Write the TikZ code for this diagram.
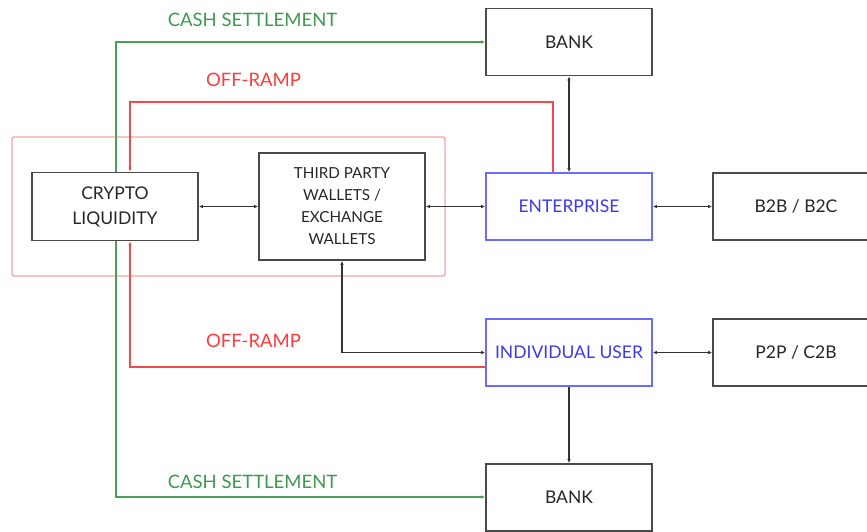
\documentclass[tikz,border=0pt]{standalone}
\usepackage{fontspec}
\setmainfont{Lato}
\usetikzlibrary{arrows.meta}
\definecolor{boxgray}{HTML}{4A4A4A}
\definecolor{lgreen}{HTML}{4C9F58}
\definecolor{tgreen}{HTML}{3E9A4E}
\definecolor{lred}{HTML}{F24A4A}
\definecolor{tred}{HTML}{FF3B3B}
\definecolor{pink}{HTML}{F7A3A3}
\definecolor{bblue}{HTML}{6B6BFF}
\definecolor{tblue}{HTML}{3A3AF2}
\definecolor{lblack}{HTML}{333333}
\tikzset{
  x=1pt, y=-1pt,
  blk/.style={draw=boxgray, line width=1.8pt, rectangle, minimum width=166pt, minimum height=67pt, inner sep=0pt, align=center, text=black!85, font=\fontsize{17.5}{24}\selectfont},
  blubox/.style={blk, draw=bblue, text=tblue},
  tip/.style={-{Latex[length=4pt,width=3.6pt]}},
  bitip/.style={{Latex[length=4pt,width=3.6pt]}-{Latex[length=4pt,width=3.6pt]}},
  conn/.style={draw=lblack, line width=1.2pt},
  gconn/.style={draw=lgreen, line width=1.2pt},
  rconn/.style={draw=lred, line width=1.2pt},
  glab/.style={text=tgreen, font=\fontsize{18.5}{22}\selectfont},
  rlab/.style={text=tred, font=\fontsize{18.5}{22}\selectfont}
}
\begin{document}
\begin{tikzpicture}
\useasboundingbox[fill=white] (0,0) rectangle (867,531);
% group frame
\draw[pink, line width=1.3pt, rounded corners=2pt] (12,137) rectangle (445,276);
% nodes
\node[blk] (bank1) at (569,42) {BANK};
\node[blubox] (ent) at (569,206.5) {ENTERPRISE};
\node[blk] (b2b) at (796,206.5) {B2B / B2C};
\node[blk, minimum height=68pt, font=\fontsize{17.5}{25}\selectfont] (crypto) at (115,206.5) {CRYPTO\\LIQUIDITY};
\node[blk, minimum height=107pt, font=\fontsize{15.2}{22}\selectfont] (third) at (342,206.5) {THIRD PARTY\\WALLETS /\\EXCHANGE\\WALLETS};
\node[blubox] (indiv) at (569,352.5) {INDIVIDUAL USER};
\node[blk] (p2p) at (796,352.5) {P2P / C2B};
\node[blk] (bank2) at (569,497.5) {BANK};
% coordinates
\coordinate (gtop) at (116,42);
\coordinate (gbot) at (116,497);
\coordinate (rtopL) at (130,102);
\coordinate (rtopR) at (553,102);
\coordinate (rbotL) at (130,367);
\coordinate (rbotR) at (486,367);
% black connectors
\draw[conn, bitip] (crypto.east) -- (third.west);
\draw[conn, bitip] (third.east) -- (ent.west);
\draw[conn, bitip] (bank1.south) -- (ent.north);
\draw[conn, bitip] (ent.east) -- (b2b.west);
\draw[conn, bitip] (indiv.east) -- (p2p.west);
\draw[conn, bitip] (third.south) |- (indiv.west);
\draw[conn, tip] (indiv.south) -- (bank2.north);
% green cash settlement
\draw[gconn, tip] (gtop |- crypto.north) -- (gtop) -- (bank1.west |- gtop);
\draw[gconn, tip] (gbot |- crypto.south) -- (gbot) -- (bank2.west |- gbot);
% red off-ramp
\draw[rconn, tip] (rtopR |- ent.north) -- (rtopR) -- (rtopL) -- (rtopL |- crypto.north);
\draw[rconn, tip] (rbotR) -- (rbotL) -- (rbotL |- crypto.south);
% labels
\node[glab] (lcs1) at (252.5,20) {CASH SETTLEMENT};
\node[rlab] (lor1) at (253.5,80) {OFF-RAMP};
\node[rlab] (lor2) at (253.5,341) {OFF-RAMP};
\node[glab] (lcs2) at (252.5,482) {CASH SETTLEMENT};
\end{tikzpicture}
\end{document}
